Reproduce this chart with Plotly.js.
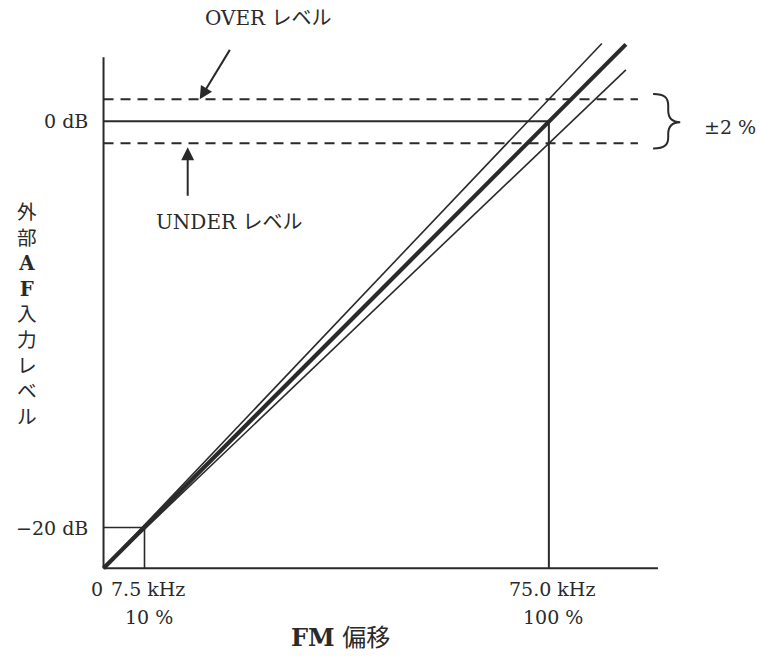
<!DOCTYPE html>
<html><head><meta charset="utf-8">
<script src="https://cdn.plot.ly/plotly-3.0.1.min.js"></script>
<style>html,body{margin:0;padding:0;background:#fff}</style>
</head><body><div id="chart" style="width:757px;height:658px"></div>
<script>
// FM deviation (% of 75 kHz) vs external AF input level (relative amplitude %)
const stdX   = [0, 100, 117.3];
const stdY   = [0, 100, 117.2];
const overX  = [0, 100, 111.9];
const overY  = [0, 104.9, 117.4];
const underX = [0, 100, 117.3];
const underY = [0, 95.1, 111.5];

const overLevel = 104.9;
const refLevel = 100;
const underLevel = 95.1;
const levelLineEnd = 120;

const refPointX = [9.2, 100];      // 7.5 kHz (10 %), 75.0 kHz (100 %)
const refPointY = [9.1, 100];      // -20 dB, 0 dB
const xTickKHz = ['7.5 kHz', '75.0 kHz'];
const xTickPct = ['10 %', '100 %'];
const yTickLabels = ['−20 dB', '0 dB'];

const axisXEnd = 124.5;
const axisYEnd = 114.3;

const C = '#2a2a2a';
const serif = 'DejaVu Serif, Liberation Serif, Noto Sans CJK JP, serif';
const jp = 'DejaVu Serif, Noto Sans CJK JP, serif';

function line(x, y, w, dash) {
  return {type: 'scatter', mode: 'lines', x: x, y: y, hoverinfo: 'skip', showlegend: false,
    cliponaxis: false, line: {color: C, width: w, dash: dash || 'solid'}};
}

const traces = [
  line([0, axisXEnd], [0, 0], 2),
  line([0, 0], [0, axisYEnd], 2),
  line([0, levelLineEnd], [overLevel, overLevel], 2, '10px,7px'),
  line([0, levelLineEnd], [underLevel, underLevel], 2, '10px,7px'),
  line([0, refPointX[1]], [refLevel, refLevel], 2),
  line([refPointX[1], refPointX[1]], [0, refPointY[1]], 2),
  line([0, refPointX[0], refPointX[0]], [refPointY[0], refPointY[0], 0], 1.6),
  line(overX, overY, 1.6),
  line(underX, underY, 1.6),
  line(stdX, stdY, 4.2)
];

// plot-area geometry helpers for labels placed outside the axis ranges
const L = 59, R = 30, T = 14, B = 63, W = 757, H = 658;
const pw = W - L - R, ph = H - T - B;
const px2paperX = (px) => (px - L) / pw;
const px2paperY = (py) => (H - B - py) / ph;

const f = (s) => ({family: serif, size: s, color: C});
const annotations = [];
for (let i = 0; i < yTickLabels.length; i++) {
  annotations.push({x: -3.0, y: refPointY[i], xref: 'x', yref: 'y', text: yTickLabels[i],
    showarrow: false, xanchor: 'right', yanchor: 'middle', font: f(19)});
}
annotations.push({x: -1.4, y: -4.7, xref: 'x', yref: 'y', text: '0', showarrow: false,
  xanchor: 'center', yanchor: 'middle', font: f(19)});
for (let i = 0; i < xTickKHz.length; i++) {
  annotations.push({x: refPointX[i] + 0.8, y: -4.7, xref: 'x', yref: 'y', text: xTickKHz[i],
    showarrow: false, xanchor: 'center', yanchor: 'middle', font: f(19)});
  annotations.push({x: px2paperX(103.5 + (refPointX[i] + 1.0) * pw / 150), y: px2paperY(617),
    xref: 'paper', yref: 'paper', text: xTickPct[i],
    showarrow: false, xanchor: 'center', yanchor: 'middle', font: f(19)});
}
annotations.push({x: px2paperX(340), y: px2paperY(637), xref: 'paper', yref: 'paper',
  text: '<b>FM</b> 偏移', showarrow: false, xanchor: 'center', yanchor: 'middle',
  font: {family: jp, size: 24, color: C}});
annotations.push({x: px2paperX(27), y: px2paperY(314.5), xref: 'paper', yref: 'paper',
  text: ['外','部','<b>A</b>','<b>F</b>','入','力','レ','ベ','ル'].join('<br>'), showarrow: false,
  xanchor: 'center', yanchor: 'middle', font: {family: jp, size: 19.7, color: C}});
annotations.push({x: 37.0, y: 123.0, xref: 'x', yref: 'y', text: 'OVER レベル', showarrow: false,
  xanchor: 'center', yanchor: 'middle', font: {family: jp, size: 20, color: C}});
annotations.push({x: 21.6, y: overLevel, xref: 'x', yref: 'y', text: '', showarrow: true,
  ax: 31, ay: -51, arrowhead: 2, arrowsize: 1.3, arrowwidth: 2, arrowcolor: C});
annotations.push({x: 28.1, y: 77.4, xref: 'x', yref: 'y', text: 'UNDER レベル', showarrow: false,
  xanchor: 'center', yanchor: 'middle', font: {family: jp, size: 20, color: C}});
annotations.push({x: 18.9, y: underLevel - 0.9, xref: 'x', yref: 'y', text: '', showarrow: true,
  ax: 0, ay: 50, arrowhead: 2, arrowsize: 1.3, arrowwidth: 2, arrowcolor: C});
annotations.push({x: 134.3, y: 98.8, xref: 'x', yref: 'y', text: '±2 %', showarrow: false,
  xanchor: 'left', yanchor: 'middle', font: f(19)});

const bx0 = 123.4, bx1 = 126.8, bx2 = 129.5;
const bTop = overLevel + 1.2, bBot = underLevel - 1.2, bMid = refLevel - 0.2;
const bracePath = `M ${bx0},${bTop} C ${bx0+2.7},${bTop} ${bx1},${bTop-0.9} ${bx1},${bTop-2.6} ` +
  `L ${bx1},${bMid+2.6} C ${bx1},${bMid+1} ${bx1+0.9},${bMid} ${bx2},${bMid} ` +
  `C ${bx1+0.9},${bMid} ${bx1},${bMid-1} ${bx1},${bMid-2.6} ` +
  `L ${bx1},${bBot+2.6} C ${bx1},${bBot+0.9} ${bx0+2.7},${bBot} ${bx0},${bBot}`;

const layout = {
  width: W, height: H,
  margin: {l: L, r: R, t: T, b: B},
  paper_bgcolor: '#fff', plot_bgcolor: '#fff',
  xaxis: {range: [-10, 140], visible: false, fixedrange: true},
  yaxis: {range: [-6, 124], visible: false, fixedrange: true},
  showlegend: false,
  annotations: annotations,
  shapes: [{type: 'path', xref: 'x', yref: 'y', path: bracePath, line: {color: C, width: 2}}]
};

Plotly.newPlot('chart', traces, layout, {staticPlot: true, displayModeBar: false});
</script></body></html>
